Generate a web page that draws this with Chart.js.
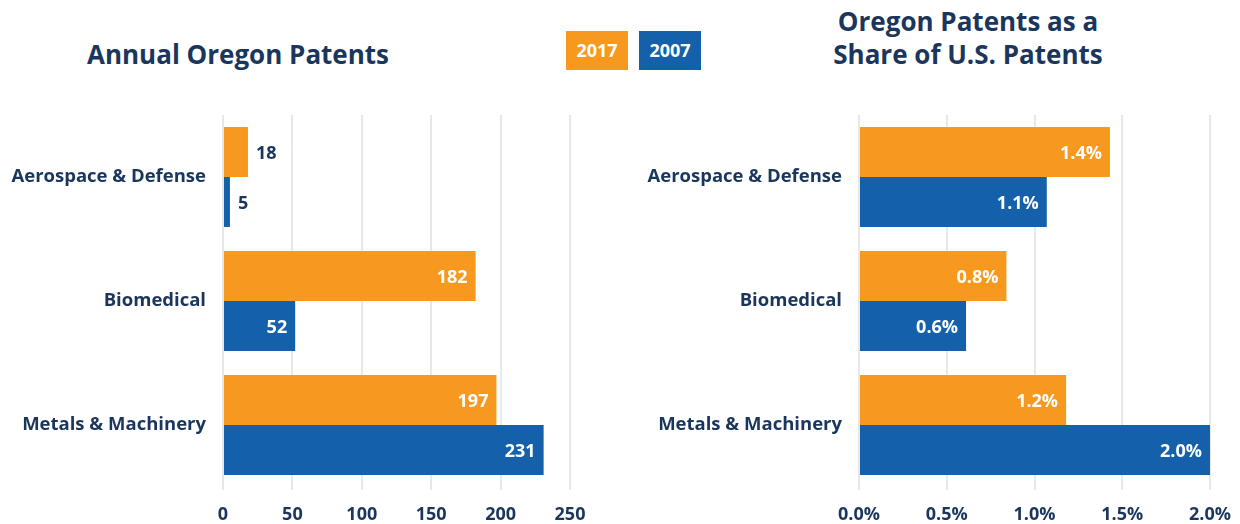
<!DOCTYPE html>
<html>
<head>
<meta charset="utf-8">
<script src="https://cdn.jsdelivr.net/npm/chart.js@4"></script>
<style>
  body { margin: 0; background: #fff; font-family: 'Open Sans', sans-serif; }
  #wrap { position: relative; width: 1240px; height: 524px; overflow: hidden; }
  .title { position: absolute; color: #1b365d; font-weight: bold; font-size: 26px; text-align: center; line-height: 33px; }
  .key { position: absolute; top: 31px; width: 62px; height: 39px; line-height: 39px; color: #fff; font-weight: bold; font-size: 18px; text-align: center; }
  canvas { position: absolute; top: 0; }
</style>
</head>
<body>
<div id="wrap">
  <div class="title" style="left:38px; top:38px; width:400px;">Annual Oregon Patents</div>
  <div class="title" style="left:768px; top:5px; width:400px;">Oregon Patents as a<br>Share of U.S. Patents</div>
  <div class="key" style="left:566px; background:#f7991f;">2017</div>
  <div class="key" style="left:639px; background:#1560aa;">2007</div>
  <div style="position:absolute; left:0; top:0; width:600px; height:524px;"><canvas id="left"></canvas></div>
  <div style="position:absolute; left:620px; top:0; width:620px; height:524px;"><canvas id="right"></canvas></div>
</div>
<script>
var categories = ['Aerospace & Defense', 'Biomedical', 'Metals & Machinery'];
var seriesNames = ['2017', '2007'];
var patents2017 = [18, 182, 197];
var patents2007 = [5, 52, 231];
var share2017 = [1.43, 0.84, 1.18];
var share2007 = [1.07, 0.61, 2.0];

var navy = '#1b365d';
var orange = '#f7991f';
var blue = '#1560aa';

Chart.defaults.font.family = "'Open Sans', sans-serif";
Chart.defaults.font.weight = 'bold';
Chart.defaults.color = navy;

var barLabels = {
  id: 'barLabels',
  afterDatasetsDraw: function(chart, args, opts) {
    var ctx = chart.ctx;
    ctx.save();
    ctx.font = "bold 18px 'Open Sans'";
    ctx.textBaseline = 'middle';
    chart.data.datasets.forEach(function(ds, i) {
      chart.getDatasetMeta(i).data.forEach(function(bar, j) {
        var txt = opts.format(ds.data[j]);
        var w = ctx.measureText(txt).width;
        if (w + 16 < bar.x - bar.base) {
          ctx.fillStyle = '#fff';
          ctx.textAlign = 'right';
          ctx.fillText(txt, bar.x - 8, bar.y + 2);
        } else {
          ctx.fillStyle = navy;
          ctx.textAlign = 'left';
          ctx.fillText(txt, bar.x + 8, bar.y + 2);
        }
      });
    });
    ctx.restore();
  }
};

function makeChart(id, a, b, max, step, fmt, yWidth, padRight) {
  return new Chart(document.getElementById(id), {
    type: 'bar',
    data: {
      labels: categories,
      datasets: [
        { label: seriesNames[0], data: a, backgroundColor: orange },
        { label: seriesNames[1], data: b, backgroundColor: blue }
      ]
    },
    options: {
      indexAxis: 'y',
      responsive: true,
      maintainAspectRatio: false,
      animation: false,
      layout: { padding: { top: 115, right: padRight, bottom: 0, left: 0 } },
      datasets: { bar: { barPercentage: 1, categoryPercentage: 0.806 } },
      plugins: {
        legend: { display: false },
        tooltip: { enabled: false },
        barLabels: { format: fmt }
      },
      scales: {
        x: {
          min: 0, max: max,
          ticks: { stepSize: step, padding: 14, font: { size: 18, weight: 'bold' }, callback: function(v) { return fmt(v); } },
          grid: { color: '#e8e8e8', lineWidth: 2, tickLength: 3 },
          border: { display: false },
          afterFit: function(s) { s.height = 37; s.paddingLeft = 0; s.paddingRight = 0; }
        },
        y: {
          ticks: { padding: 9, font: { size: 18.5, weight: 'bold' } },
          grid: { display: false },
          border: { display: false },
          afterFit: function(s) { s.width = yWidth; }
        }
      }
    },
    plugins: [barLabels]
  });
}

makeChart('left', patents2017, patents2007, 250, 50, function(v) { return String(v); }, 223, 30);
makeChart('right', share2017, share2007, 2.0, 0.5, function(v) { return v.toFixed(1) + '%'; }, 239, 30);
</script>
</body>
</html>
